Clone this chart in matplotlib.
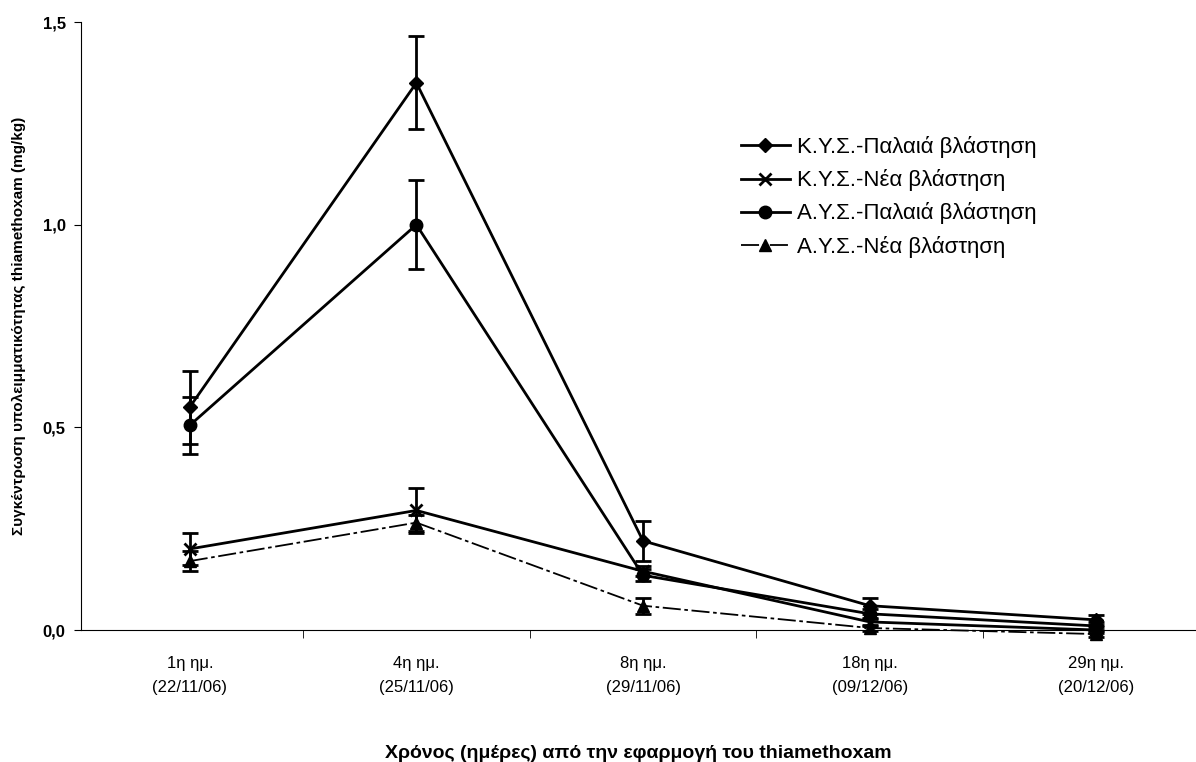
import matplotlib.pyplot as plt
import numpy as np

plt.rcParams['font.family'] = ['Liberation Sans', 'DejaVu Sans']

# sampling days
days = ['1η ημ.\n(22/11/06)', '4η ημ.\n(25/11/06)', '8η ημ.\n(29/11/06)',
        '18η ημ.\n(09/12/06)', '29η ημ.\n(20/12/06)']

# residues (mg/kg) and error bars
kys_old = [0.55, 1.35, 0.22, 0.06, 0.025]
kys_old_err = [0.09, 0.115, 0.05, 0.02, 0.012]
kys_new = [0.20, 0.295, 0.145, 0.02, 0.0]
kys_new_err = [0.04, 0.055, 0.012, 0.01, 0.008]
ays_old = [0.505, 1.0, 0.135, 0.04, 0.01]
ays_old_err = [0.07, 0.11, 0.015, 0.012, 0.01]
ays_new = [0.17, 0.265, 0.06, 0.005, -0.01]
ays_new_err = [0.025, 0.02, 0.02, 0.008, 0.008]

names = ['Κ.Υ.Σ.-Παλαιά βλάστηση', 'Κ.Υ.Σ.-Νέα βλάστηση',
         'Α.Υ.Σ.-Παλαιά βλάστηση', 'Α.Υ.Σ.-Νέα βλάστηση']

x = np.arange(len(days))

fig = plt.figure(figsize=(11.96, 7.62), dpi=100)
ax = fig.add_axes([0.0677, 0.1732, 0.9323, 0.7979])

ax.errorbar(x, kys_old, yerr=kys_old_err, color='black', lw=2, marker='D', ms=7,
            capsize=6, elinewidth=2, capthick=2, label=names[0], clip_on=False)
ax.errorbar(x, kys_new, yerr=kys_new_err, color='black', lw=2, marker='x', ms=9, mew=2,
            capsize=6, elinewidth=2, capthick=2, label=names[1], clip_on=False)
ax.errorbar(x, ays_old, yerr=ays_old_err, color='black', lw=2, marker='o', ms=9,
            capsize=6, elinewidth=2, capthick=2, label=names[2], clip_on=False)
ax.errorbar(x, ays_new, yerr=ays_new_err, color='black', lw=1.3, ls=(0, (10, 2, 2, 2)),
            marker='^', ms=8, capsize=6, elinewidth=2, capthick=2, label=names[3],
            clip_on=False)

ax.set_xlim(-0.48, 4.44)
ax.set_ylim(0, 1.5)
ax.set_yticks([0, 0.5, 1.0, 1.5])
ax.set_yticklabels(['0,0', '0,5', '1,0', '1,5'], fontsize=12, fontweight='bold')
ax.set_xticks(x)
ax.set_xticklabels(days, fontsize=12, linespacing=1.75)
ax.set_xticks(x[:-1] + 0.5, minor=True)
ax.tick_params(axis='x', which='major', length=0, pad=19)
ax.tick_params(axis='x', which='minor', length=6, direction='out')
ax.tick_params(axis='y', length=5, direction='out', pad=6)

for s in ['top', 'right']:
    ax.spines[s].set_visible(False)

ax.set_ylabel('Συγκέντρωση υπολειμματικότητας thiamethoxam (mg/kg)', fontsize=11,
              fontweight='bold', labelpad=12)
ax.set_xlabel('Χρόνος (ημέρες) από την εφαρμογή του thiamethoxam', fontsize=14,
              fontweight='bold', labelpad=36)

handles, labels = ax.get_legend_handles_labels()
handles = [h[0] for h in handles]
ax.legend(handles, labels, loc='upper left', bbox_to_anchor=(0.574, 0.845), frameon=False,
          fontsize=16, handlelength=2.2, handletextpad=0.3, labelspacing=0.5)

plt.savefig('out.png', dpi=100)
